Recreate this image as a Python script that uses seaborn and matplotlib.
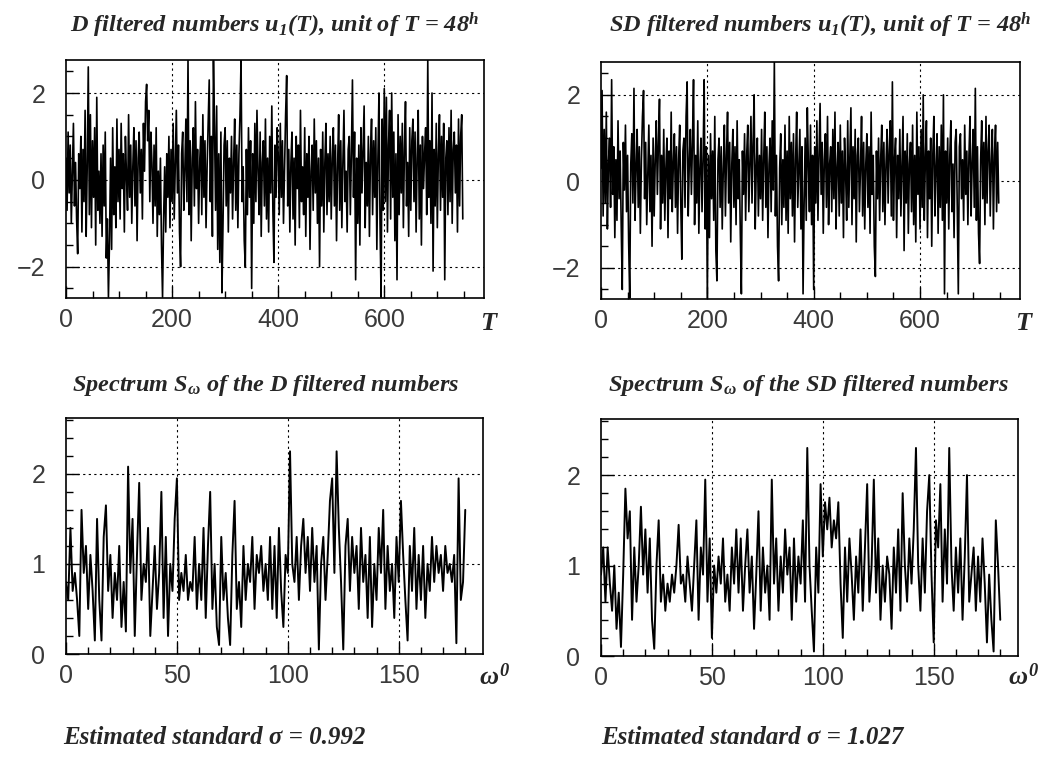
import numpy as np
import pandas as pd
import matplotlib
matplotlib.use("Agg")
import matplotlib.pyplot as plt
from matplotlib.ticker import MultipleLocator
import seaborn as sns

# ---------------- data ----------------
T_step = 2
D_series = [
    0.5, -0.7, 1.1, -0.3, 0.8, -1.0, 0.2, 1.3, -0.6, 0.4, -0.9, -1.7, 0.6, -0.2, 1.0, -1.2, 0.7, -0.5, 1.6, -1.3, 0.3, 2.6, -0.8, 1.5, -1.1,
    0.9, -0.4, 1.2, -1.5, 1.9, -0.7, 0.2, -1.0, 0.6, -1.3, 0.8, -0.6, 1.1, -1.8, -0.9, -2.7, -1.4, 0.5, -1.6, 1.2, -0.8, 0.3, -1.1, 1.4, -0.5,
    0.7, -0.9, 1.3, -0.2, 0.6, -1.2, 1.0, 0.1, -0.7, 1.5, -0.4, 0.8, -1.0, 0.3, 1.2, -0.6, 0.9, -1.4, 0.5, 1.1, -0.3, 0.7, -0.9, 1.3, 0.2,
    1.8, 2.2, 0.9, 1.6, -0.5, 1.1, 0.4, -1.0, 0.8, -0.6, 1.2, -1.3, 0.2, -0.8, 0.5, -1.5, -2.7, -0.9, 0.3, -1.2, 0.6, -0.4, 1.0, -1.1, 0.7,
    -0.5, 1.3, -0.9, 0.4, 1.6, -0.3, 0.8, -1.2, -2.0, 0.6, 1.1, -0.7, 0.2, 1.4, -0.5, 2.75, -0.8, 0.9, -1.4, 0.5, 1.2, -0.6, 1.8, -0.2, 0.7,
    -1.0, 0.4, 1.0, -0.8, 1.5, -0.4, 0.9, -1.1, 0.3, 1.3, 2.3, -0.5, 1.0, -1.3, 2.75, 1.2, -0.7, 1.7, -1.6, 0.6, -1.9, 1.1, -2.6, -1.0, 0.8,
    1.2, -0.6, 0.9, -1.2, 0.5, -0.3, 1.0, -0.9, 0.4, 1.4, -0.7, 0.8, -1.1, 0.6, 1.5, 2.75, -0.5, 0.3, -1.4, -2.0, 0.7, -0.8, 1.2, -0.4, 0.9,
    -2.5, 0.6, -1.0, 1.3, -0.5, 1.6, 0.2, -0.8, 1.1, -1.3, 0.4, 0.9, -0.6, 1.4, -0.9, 0.5, -1.2, 1.0, -0.3, 1.7, -0.7, -1.9, 0.8, -0.4, 1.2,
    0.6, -0.8, 1.3, -0.4, 0.9, -1.0, 0.3, 1.5, 2.4, -0.6, 0.7, -1.2, 0.4, 1.1, -0.9, 0.5, -1.5, 1.0, -0.2, 0.8, -1.1, 1.6, -0.5, 0.3, -0.8,
    1.2, -1.3, 0.6, -0.4, 1.0, -1.6, 0.2, 0.8, -0.7, 1.4, -0.3, 0.9, -1.0, 0.5, -2.0, 0.7, -0.6, 1.1, -1.2, 0.4, 1.3, -0.8, 0.6, -0.5, 1.0,
    -0.9, 0.5, 1.2, -0.6, 0.8, -1.4, 0.3, 1.5, -0.7, 0.9, -1.1, 0.4, 1.6, -0.5, 0.2, -1.2, 0.7, 1.0, -0.8, 0.6, 2.3, -0.4, 1.1, -2.3, 0.5,
    -1.0, 0.8, -1.5, 1.2, -0.3, 0.7, 1.7, -1.1, 0.4, -0.6, 1.0, -1.3, 0.6, 1.4, -0.8, 0.9, -0.4, 1.2, -1.6, 0.5, 2.0, -1.0, -2.7, 1.4, -0.7,
    2.1, -0.5, 1.9, -1.2, 0.8, 1.6, -0.9, 2.0, -0.4, 1.1, -1.4, 0.6, -2.3, 1.5, -0.8, 1.0, -0.3, 1.3, -1.1, 0.7, 1.8, -0.6, 0.4, -1.3, 1.2,
    -0.7, 0.9, 1.4, -0.5, 1.1, -1.2, 0.5, 1.6, -0.9, 0.8, -1.5, 1.0, -0.2, 0.6, 1.2, -0.8, 2.75, -0.4, 0.9, -1.0, 2.0, -2.1, 0.7, -0.6, 1.3,
    -1.1, 0.6, 1.5, -0.7, 1.0, -0.4, 1.3, -2.3, 0.5, 0.9, -0.8, 1.2, -0.5, 1.6, -1.0, 0.7, 1.1, -0.3, 0.8, -1.2, 1.4, -0.6, 1.0, 1.5, -0.9,
]
SD_series = [
    0.3, 2.1, -0.8, 1.2, -0.5, 1.6, -1.1, 0.4, 1.0, -0.6, 2.35, -0.3, 0.8, -1.3, 0.5, -0.9, 1.4, -0.4, 0.7, -1.0, -2.5, 0.9, -0.2, 1.3, -0.7,
    0.6, -1.4, -2.7, 0.4, 1.1, -0.5, 2.15, -0.9, 0.3, 1.2, -0.6, 0.8, -1.2, 0.5, 1.5, 2.1, -0.4, 0.9, -1.0, 0.2, 1.3, -0.7, 0.6, -1.5, 1.0,
    -0.8, 0.5, 1.4, -0.3, 0.9, 1.9, -1.1, 0.6, -0.5, 1.2, -0.9, 0.3, 1.0, -1.3, 0.7, -0.4, 1.6, -0.7, 0.4, 1.1, -0.6, 0.8, -1.2, 0.5, 1.3,
    -0.5, -1.8, 0.7, 1.0, -0.6, 1.5, 2.3, -0.8, 0.4, 1.2, -0.3, 0.9, 2.35, -1.0, 0.6, -0.5, 1.4, -1.2, 0.3, 1.0, -0.7, 0.5, 2.35, -1.1, 0.8,
    -2.7, 0.6, -1.3, 1.1, -0.4, 0.7, -0.9, 1.5, -1.6, -2.3, 0.5, 1.0, -0.6, 0.8, -1.1, 0.3, 1.3, -0.8, 0.6, 1.6, -0.5, 0.9, -1.4, 0.4, 1.2,
    -0.6, 0.8, -1.0, 1.4, -0.4, 0.5, -1.2, -2.6, 0.7, -0.3, 1.1, -0.9, 0.6, 1.3, -0.7, 0.4, 1.5, -0.5, 0.9, 2.0, -1.1, 0.3, 1.0, -0.8, 0.6,
    -0.4, 1.2, -0.9, 0.5, 1.6, -0.6, 0.8, -1.3, 0.4, 1.0, -0.7, 1.4, -0.2, 2.75, -0.8, 0.6, -1.5, -2.3, 0.3, 1.1, -1.0, 0.5, -0.6, 1.3, -0.9,
    0.7, -1.2, 1.5, -0.4, 0.9, -0.8, 1.1, -1.4, 0.5, 1.6, -0.6, 0.3, 1.2, -1.1, 0.8, -2.6, -0.5, 1.0, -0.9, 1.7, 0.4, -0.7, 1.3, -1.0, 0.6,
    -2.5, 0.8, -0.5, 1.4, -0.9, 0.6, 1.8, -0.3, 0.9, -1.2, 0.5, 1.1, -0.6, 1.5, -1.0, 0.4, 0.8, -0.7, 1.2, -0.4, 1.6, -1.1, 0.3, 0.9, -0.8,
    1.3, -0.5, 0.7, -1.3, 1.0, 0.2, -0.9, 1.4, -0.6, 0.5, 1.7, -1.0, 0.8, -0.4, 1.2, -1.4, 0.6, 1.0, -0.7, 0.3, 1.5, -0.8, 0.9, -1.1, 0.4,
    1.1, -0.6, 0.8, -1.2, 1.6, -0.3, 0.6, -1.5, -2.2, 0.7, -0.4, 1.0, -0.9, 0.5, 1.3, -0.7, 0.9, -1.0, 0.4, 1.2, -0.5, 0.7, 1.4, -0.8, 2.3,
    -0.9, 0.5, 1.0, -1.3, 0.6, -0.4, 1.2, -0.8, 0.3, 1.5, -1.6, 0.7, -0.5, 1.1, -1.2, 0.4, 0.9, -0.7, 1.3, -1.0, 0.6, -1.4, 1.6, -0.3, 0.8,
    -1.1, 1.2, -0.6, 2.0, -0.9, 0.5, 1.4, -1.3, 0.7, -0.4, 1.0, -1.5, 0.6, 1.5, -0.8, 0.3, 1.1, -1.2, 0.8, -0.6, 1.3, -0.9, 2.0, -2.6, 0.7,
    -0.5, 1.0, -1.1, 0.6, 1.4, -0.7, 0.4, -1.3, 0.9, 1.2, -0.6, -2.6, 0.8, 1.1, -0.4, 0.5, -0.9, 1.3, -0.3, 0.7, -1.0, 0.6, 1.5, -0.8, 0.4,
    1.2, -0.6, 2.15, -0.9, 0.8, -1.2, -1.9, 0.5, 1.4, -0.4, 0.9, -1.0, 1.5, -0.5, 0.7, 1.3, -0.8, 0.4, 1.2, -1.1, 0.6, 1.3, -0.7, 0.9, -0.5,
]
D_spectrum = [
    0.8, 0.6, 1.4, 0.7, 0.9, 0.6, 0.2, 1.6, 0.9, 1.2,
    0.5, 1.1, 0.7, 0.15, 1.5, 0.6, 0.15, 1.3, 1.65, 0.7,
    1.1, 0.4, 0.9, 0.6, 1.2, 0.3, 0.8, 0.25, 2.08, 0.9,
    1.5, 0.2, 1.1, 1.9, 0.6, 1.0, 0.8, 1.4, 0.2, 0.7,
    1.2, 0.5, 0.9, 1.8, 0.4, 1.3, 0.2, 1.0, 0.7, 1.5,
    1.95, 0.6, 0.9, 0.7, 1.1, 0.6, 0.8, 0.7, 1.3, 0.5,
    1.0, 0.6, 1.4, 0.4, 1.2, 1.8, 0.5, 1.0, 0.3, 0.1,
    1.3, 0.6, 0.9, 0.4, 0.1, 1.1, 1.7, 0.5, 0.8, 0.3,
    1.2, 0.6, 1.0, 0.8, 1.3, 0.5, 1.1, 0.9, 1.2, 0.7,
    1.0, 0.6, 1.3, 0.5, 1.2, 0.4, 1.4, 0.7, 0.3, 1.1,
    0.9, 2.25, 1.0, 0.8, 1.3, 0.6, 1.2, 1.5, 0.9, 1.3,
    0.7, 1.4, 0.8, 1.2, 0.05, 1.0, 1.3, 0.6, 1.1, 1.7,
    1.95, 0.9, 2.25, 1.4, 0.8, 0.05, 1.2, 1.5, 0.7, 1.3,
    0.9, 1.2, 0.5, 1.4, 0.8, 1.1, 0.4, 1.3, 0.3, 1.0,
    0.6, 1.4, 0.9, 1.6, 0.5, 1.2, 0.7, 1.0, 0.4, 1.3,
    0.8, 1.7, 1.1, 0.6, 0.15, 1.2, 0.7, 1.4, 0.5, 1.1,
    0.6, 1.2, 0.4, 1.0, 0.7, 1.3, 0.8, 1.2, 0.9, 1.1,
    0.7, 1.2, 0.9, 1.0, 0.8, 1.1, 0.12, 1.95, 0.6, 0.8,
    1.6,
]
SD_spectrum = [
    0.9, 1.2, 0.6, 1.2, 0.8, 0.5, 1.0, 0.3, 0.7, 0.1,
    0.9, 1.85, 1.3, 1.6, 0.4, 1.2, 0.6, 1.0, 1.65, 0.9,
    1.4, 0.7, 1.3, 0.4, 0.08, 1.0, 1.5, 0.6, 0.9, 0.5,
    0.8, 0.6, 0.9, 0.7, 1.0, 1.45, 0.8, 0.9, 0.6, 1.1,
    0.8, 0.5, 1.0, 1.5, 0.4, 1.2, 0.9, 1.95, 0.6, 1.3,
    0.2, 1.0, 0.7, 1.1, 0.8, 1.3, 0.6, 0.9, 0.5, 1.2,
    0.8, 1.4, 0.7, 1.3, 0.5, 1.0, 1.4, 0.7, 1.1, 0.3,
    0.9, 1.6, 0.5, 1.2, 0.7, 1.0, 0.4, 1.95, 0.8, 1.3,
    0.5, 1.1, 0.7, 1.4, 0.9, 1.2, 0.4, 1.3, 0.6, 1.1,
    0.8, 1.5, 0.6, 2.3, 1.0, 0.5, 0.05, 1.2, 0.7, 1.9,
    1.1, 1.7, 1.4, 1.75, 1.2, 1.5, 1.3, 1.7, 0.8, 0.2,
    1.2, 0.6, 1.3, 0.9, 0.4, 1.1, 0.7, 1.4, 0.5, 1.2,
    1.9, 0.6, 1.0, 1.95, 0.7, 1.3, 0.4, 1.0, 0.6, 1.1,
    0.9, 0.3, 1.2, 0.7, 1.4, 0.5, 1.8, 1.0, 0.6, 1.3,
    0.8, 1.4, 2.3, 1.0, 0.5, 1.3, 0.7, 1.6, 2.0, 0.9,
    0.15, 1.5, 1.2, 1.9, 0.6, 1.4, 0.8, 2.3, 1.0, 0.5,
    1.2, 0.7, 1.3, 0.4, 1.1, 2.0, 0.6, 0.9, 1.2, 0.5,
    1.1, 0.6, 1.3, 0.8, 0.15, 0.9, 0.4, 0.05, 1.5, 1.0,
    0.4,
]
top_titles = ["D filtered numbers $u_1$(T), unit of T = 48$^h$",
              "SD filtered numbers $u_1$(T), unit of T = 48$^h$"]
bottom_titles = ["Spectrum $S_\\omega$ of the D filtered numbers",
                 "Spectrum $S_\\omega$ of the SD filtered numbers"]
sigma_texts = ["Estimated standard σ = 0.992", "Estimated standard σ = 1.027"]

# ---------------- style ----------------
sns.set_style("white")
plt.rcParams["font.family"] = ["Liberation Sans", "DejaVu Sans"]
plt.rcParams["mathtext.fontset"] = "custom"
plt.rcParams["mathtext.rm"] = "Liberation Serif:bold:italic"
plt.rcParams["mathtext.it"] = "Liberation Serif:bold:italic"
plt.rcParams["mathtext.bf"] = "Liberation Serif:bold:italic"

W, H = 1047, 758
fig = plt.figure(figsize=(W / 100, H / 100), dpi=100)

def ax_at(l, t, r, b):
    return fig.add_axes([l / W, 1 - b / H, (r - l) / W, (b - t) / H])

axes = {
    "tl": ax_at(66, 60, 484, 298),
    "tr": ax_at(601, 62, 1020, 299),
    "bl": ax_at(66, 418, 483, 654),
    "br": ax_at(601, 419, 1018, 656),
}

serif_bi = dict(family="Liberation Serif", weight="bold", style="italic")
grid_kw = dict(color="black", lw=0.8, ls=(0, (2, 3)), zorder=0)

def style_axes(ax, xlim, ylim, xmaj, xmin, ymaj, ymin, gx, gy):
    ax.set_xlim(*xlim)
    ax.set_ylim(*ylim)
    ax.xaxis.set_major_locator(MultipleLocator(xmaj))
    ax.xaxis.set_minor_locator(MultipleLocator(xmin))
    ax.yaxis.set_major_locator(MultipleLocator(ymaj))
    ax.yaxis.set_minor_locator(MultipleLocator(ymin))
    for v in gx:
        ax.axvline(v, **grid_kw)
    for v in gy:
        ax.axhline(v, **grid_kw)
    for s in ax.spines.values():
        s.set_visible(True)
        s.set_color("black")
        s.set_linewidth(1.2)
    ax.tick_params(which="both", direction="in", top=False, right=False,
                   bottom=True, left=True, color="black", width=1)
    ax.tick_params(which="major", length=9, labelsize=18, labelcolor="#3a3a3a")
    ax.tick_params(which="minor", length=5)
    ax.tick_params(axis="x", which="major", pad=7)
    ax.tick_params(axis="y", which="major", pad=15)
    ax.set_xlabel("")
    ax.set_ylabel("")

# time series
for key, series, title, tx in [("tl", D_series, top_titles[0], 275),
                               ("tr", SD_series, top_titles[1], 820)]:
    ax = axes[key]
    df = pd.DataFrame({"T": np.arange(len(series)) * T_step, "u": series})
    sns.lineplot(data=df, x="T", y="u", ax=ax, color="black", lw=1.2,
                 estimator=None, sort=False)
    style_axes(ax, (0, 788), (-2.72, 2.76), 200, 50, 2, 0.5,
               [200, 400, 600], [-2, 0, 2])
    fig.text(tx / W, 1 - 25 / H, title, ha="center", va="center", fontsize=17.5, **serif_bi)

# spectra
for key, spec, title, tx in [("bl", D_spectrum, bottom_titles[0], 266),
                             ("br", SD_spectrum, bottom_titles[1], 808)]:
    ax = axes[key]
    df = pd.DataFrame({"w": np.arange(len(spec)), "S": spec})
    sns.lineplot(data=df, x="w", y="S", ax=ax, color="black", lw=1.4,
                 estimator=None, sort=False)
    style_axes(ax, (0, 188), (0, 2.62), 50, 10, 1, 0.2,
               [50, 100, 150], [1, 2])
    fig.text(tx / W, 1 - 385 / H, title, ha="center", va="center", fontsize=17.5, **serif_bi)

# axis end labels
for x in (488, 1023):
    fig.text(x / W, 1 - 323 / H, "T", ha="center", va="center", fontsize=19, **serif_bi)
for x in (495, 1024):
    fig.text(x / W, 1 - 677 / H, "$\\omega^0$", ha="center", va="center", fontsize=19, **serif_bi)

for x, s in zip((63, 601), sigma_texts):
    fig.text(x / W, 1 - 738 / H, s, ha="left", va="center", fontsize=18, **serif_bi)

fig.savefig("out.png", dpi=100, facecolor="white")
